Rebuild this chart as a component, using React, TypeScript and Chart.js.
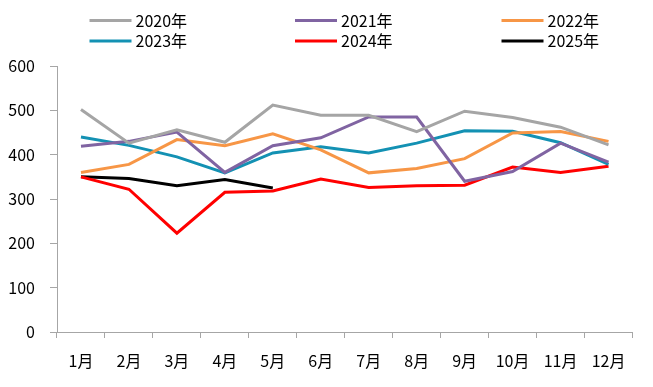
import React, { useEffect, useRef } from "react";
import { Chart, registerables } from "chart.js";

Chart.register(...registerables);

const months = ["1月", "2月", "3月", "4月", "5月", "6月", "7月", "8月", "9月", "10月", "11月", "12月"];
const s2020 = [502, 426, 456, 428, 512, 489, 489, 452, 498, 484, 462, 422];
const s2021 = [419, 430, 451, 360, 420, 438, 485, 485, 340, 362, 426, 383];
const s2022 = [360, 378, 434, 420, 447, 411, 359, 369, 391, 449, 452, 430];
const s2023 = [440, 421, 395, 359, 404, 418, 404, 426, 454, 453, 427, 378];
const s2024 = [350, 322, 223, 315, 318, 345, 326, 330, 331, 372, 360, 374];
const s2025 = [350, 346, 330, 344, 325];
const seriesNames = ["2020年", "2021年", "2022年", "2023年", "2024年", "2025年"];
const seriesColors = ["#A5A5A5", "#8064A2", "#F79646", "#1391B3", "#FF0000", "#000000"];
const yTicks = [0, 100, 200, 300, 400, 500, 600];

const FONT = "'Noto Sans CJK SC', 'Noto Sans', sans-serif";

const legendPlugin = {
  id: "gridLegend",
  afterDraw(chart: any) {
    const ctx = chart.ctx;
    const colX = [89.5, 295, 501.5];
    const rowY = [20.5, 41];
    ctx.save();
    ctx.font = `16px ${FONT}`;
    ctx.textBaseline = "middle";
    ctx.textAlign = "left";
    chart.data.datasets.forEach((ds: any, i: number) => {
      const x = colX[i % 3];
      const y = rowY[Math.floor(i / 3)];
      ctx.strokeStyle = ds.borderColor;
      ctx.lineWidth = 3;
      ctx.beginPath();
      ctx.moveTo(x, y);
      ctx.lineTo(x + 42, y);
      ctx.stroke();
      ctx.fillStyle = "#000000";
      ctx.fillText(ds.label, x + 46, y);
    });
    ctx.restore();
  },
};

export default function App() {
  const ref = useRef<HTMLCanvasElement | null>(null);
  useEffect(() => {
    document.body.style.margin = "0";
    const all = [s2020, s2021, s2022, s2023, s2024, s2025];
    const chart = new Chart(ref.current as HTMLCanvasElement, {
      type: "line",
      data: {
        labels: months,
        datasets: all.map((d, i) => ({
          label: seriesNames[i],
          data: d,
          borderColor: seriesColors[i],
          backgroundColor: seriesColors[i],
          borderWidth: 3,
          pointRadius: 0,
          tension: 0,
          fill: false,
        })),
      },
      options: {
        responsive: false,
        animation: false,
        layout: { padding: { top: 66, right: 20.5, left: 0, bottom: 0 } },
        plugins: { legend: { display: false }, tooltip: { enabled: false } },
        scales: {
          x: {
            offset: true,
            grid: {
              offset: true,
              drawOnChartArea: false,
              drawTicks: true,
              tickLength: 6,
              color: "#A6A6A6",
            },
            border: { display: true, color: "#A6A6A6", width: 1 },
            ticks: { color: "#000", font: { family: FONT, size: 16 }, padding: 13, maxRotation: 0, autoSkip: false },
            afterFit: (s: any) => { s.height = 55; },
          },
          y: {
            min: 0,
            max: 600,
            afterBuildTicks: (s: any) => { s.ticks = yTicks.map((v) => ({ value: v })); },
            grid: { drawOnChartArea: false, drawTicks: true, tickLength: 7, color: "#A6A6A6" },
            border: { display: true, color: "#A6A6A6", width: 1 },
            ticks: { color: "#000", font: { family: FONT, size: 16 }, padding: 15 },
            afterFit: (s: any) => { s.width = 57; },
          },
        },
      },
      plugins: [legendPlugin],
    });
    return () => chart.destroy();
  }, []);
  return (
    <div style={{ width: 653, height: 387 }}>
      <canvas ref={ref} width={653} height={387} style={{ display: "block" }} />
    </div>
  );
}
